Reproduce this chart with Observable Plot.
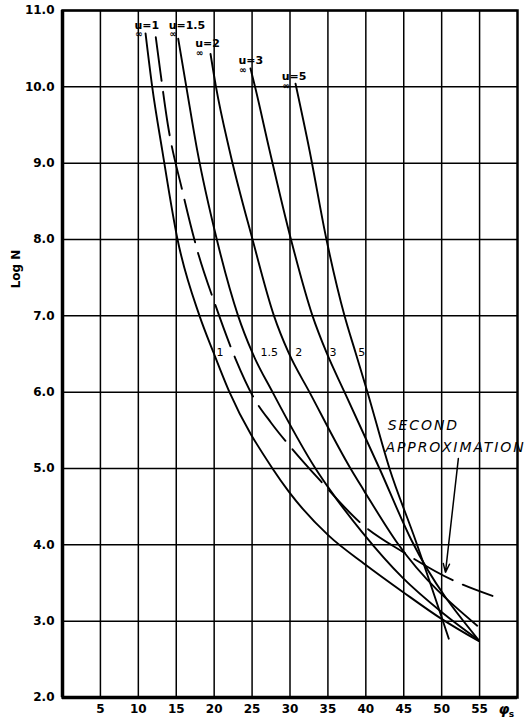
<!DOCTYPE html>
<html>
<head>
<meta charset="utf-8">
<script src="https://cdn.jsdelivr.net/npm/d3@7"></script>
<script src="https://cdn.jsdelivr.net/npm/@observablehq/plot@0.6"></script>
<style>
  html, body { margin: 0; padding: 0; background: #fff; }
  svg { display: block; }
</style>
</head>
<body>
<div id="chart"></div>
<script>
// ---- data ----
const xTicks = [5, 10, 15, 20, 25, 30, 35, 40, 45, 50, 55];
const yTicks = [2, 3, 4, 5, 6, 7, 8, 9, 10, 11];

const u1X  = [10.95, 11.83, 13.15, 15.17, 18.07, 19.91, 22.02, 27.69, 29.89, 35.1, 39.96, 44.93, 49.98, 54.86];
const u1Y  = [10.70, 10.0, 9.17, 8.0, 7.0, 6.52, 6.0, 5.0, 4.69, 4.12, 3.74, 3.38, 3.03, 2.74];
const u15X = [15.26, 16.33, 17.76, 20.35, 23.16, 25.02, 27.7, 33.36, 35.34, 39.56, 44.84, 49.98, 54.9];
const u15Y = [10.63, 10.0, 9.17, 8.0, 7.0, 6.52, 6.0, 5.0, 4.71, 4.16, 3.57, 3.12, 2.75];
const u2X  = [19.52, 20.24, 22.02, 25.06, 27.89, 29.8, 32.57, 37.98, 39.76, 44.18, 54.69];
const u2Y  = [10.43, 10.0, 9.17, 8.0, 7.0, 6.52, 6.0, 5.0, 4.71, 4.02, 2.94];
const u3X  = [24.79, 25.39, 27.3, 30.13, 32.97, 34.81, 37.19, 41.8, 46.02, 54.9];
const u3Y  = [10.24, 10.0, 9.17, 8.0, 7.0, 6.52, 6.0, 5.0, 4.06, 2.75];
const u5X  = [30.73, 32.57, 34.81, 37.19, 38.64, 40.22, 43.12, 46.55, 50.94];
const u5Y  = [10.04, 9.17, 8.0, 7.0, 6.52, 6.0, 5.0, 4.06, 2.77];
const approxX = [12.3, 12.9, 13.9, 15.8, 17.8, 20.2, 22.8, 25.2, 27.5, 30.0, 34.0, 39.5, 45.0, 51.6, 56.7];
const approxY = [10.65, 10.2, 9.5, 8.64, 7.85, 7.13, 6.44, 5.93, 5.60, 5.29, 4.84, 4.27, 3.90, 3.53, 3.33];

const topLabels  = ["u=1", "u=1.5", "u=2", "u=3", "u=5"];
const topLabelX  = [9.5, 14.0, 17.5, 23.2, 28.9];
const topLabelY  = [10.81, 10.81, 10.57, 10.34, 10.14];
const midLabels  = ["1", "1.5", "2", "3", "5"];
const midLabelX  = [20.3, 26.1, 30.7, 35.2, 39.0];
const midLabelY  = [6.52, 6.52, 6.52, 6.52, 6.52];

const noteLines = ["SECOND", "APPROXIMATION"];
const noteX = [42.9, 42.6];
const noteY = [5.56, 5.27];
const arrowFrom = [52.2, 5.13];
const arrowTo = [50.5, 3.64];

// ---- build tables ----
const zipXY = (xs, ys) => xs.map((x, i) => ({x, y: ys[i]}));
const solidSeries = [
  zipXY(u1X, u1Y), zipXY(u15X, u15Y), zipXY(u2X, u2Y), zipXY(u3X, u3Y), zipXY(u5X, u5Y)
];
const approx = zipXY(approxX, approxY);
const tops = topLabels.map((t, i) => ({t, x: topLabelX[i], y: topLabelY[i]}));
const mids = midLabels.map((t, i) => ({t, x: midLabelX[i], y: midLabelY[i]}));
const notes = noteLines.map((t, i) => ({t, x: noteX[i], y: noteY[i]}));

const font = "DejaVu Sans";

const chart = Plot.plot({
  width: 528,
  height: 725,
  marginLeft: 62,
  marginRight: 11,
  marginTop: 10,
  marginBottom: 28,
  style: {fontFamily: font, background: "#fff", color: "#000"},
  x: {domain: [0, 60]},
  y: {domain: [2, 11]},
  marks: [
    Plot.ruleX(xTicks, {stroke: "#000", strokeWidth: 1.5}),
    Plot.ruleY(yTicks, {stroke: "#000", strokeWidth: 1.5}),
    Plot.frame({stroke: "#000", strokeWidth: 2.5}),
    Plot.ruleX([0], {stroke: "#000", strokeWidth: 3.5}),
    Plot.ruleY([2], {stroke: "#000", strokeWidth: 3.5}),
    Plot.axisY({ticks: yTicks, tickSize: 0, tickPadding: 8, tickFormat: d => d.toFixed(1),
      fontSize: 12, fontWeight: "bold", label: null}),
    Plot.axisX({ticks: xTicks, tickSize: 0, tickPadding: 7, tickFormat: d => String(d),
      fontSize: 12, fontWeight: "bold", label: null}),
    ...solidSeries.map(s => Plot.line(s, {x: "x", y: "y", stroke: "#000", strokeWidth: 1.9, curve: "monotone-x"})),
    Plot.line(approx, {x: "x", y: "y", stroke: "#000", strokeWidth: 1.9, curve: "monotone-x", strokeDasharray: "44,11"}),
    Plot.text(tops, {x: "x", y: "y", text: "t", textAnchor: "start", fontSize: 11, fontWeight: "bold"}),
    Plot.text(tops, {x: "x", y: "y", text: () => "\u221E", textAnchor: "start", dx: 0.5, dy: 9.5, fontSize: 9, fontWeight: "bold"}),
    Plot.text(mids, {x: "x", y: "y", text: "t", textAnchor: "start", fontSize: 11}),
    Plot.text(notes, {x: "x", y: "y", text: "t", textAnchor: "start", fontSize: 14, fontStyle: "italic"}),
    Plot.arrow([{x1: arrowFrom[0], y1: arrowFrom[1], x2: arrowTo[0], y2: arrowTo[1]}],
      {x1: "x1", y1: "y1", x2: "x2", y2: "y2", stroke: "#000", strokeWidth: 1.5, headLength: 9, headAngle: 40}),
    Plot.text(["Log N"], {frameAnchor: "left", y: 7.36, dx: -46, rotate: -90, text: d => d, fontSize: 12, fontWeight: "bold"}),
    Plot.text(["\u03C6"], {x: 58.2, y: 2, dy: 12, text: d => d, fontSize: 14, fontWeight: "bold", fontStyle: "italic"}),
    Plot.text(["s"], {x: 58.2, y: 2, dx: 7.5, dy: 17, text: d => d, fontSize: 9, fontWeight: "bold"})
  ]
});
document.getElementById("chart").appendChild(chart);
d3.select(chart).selectAll("text").filter(function() {
  return this.textContent === "SECOND" || this.textContent === "APPROXIMATION";
}).attr("letter-spacing", "1.9px");
</script>
</body>
</html>
